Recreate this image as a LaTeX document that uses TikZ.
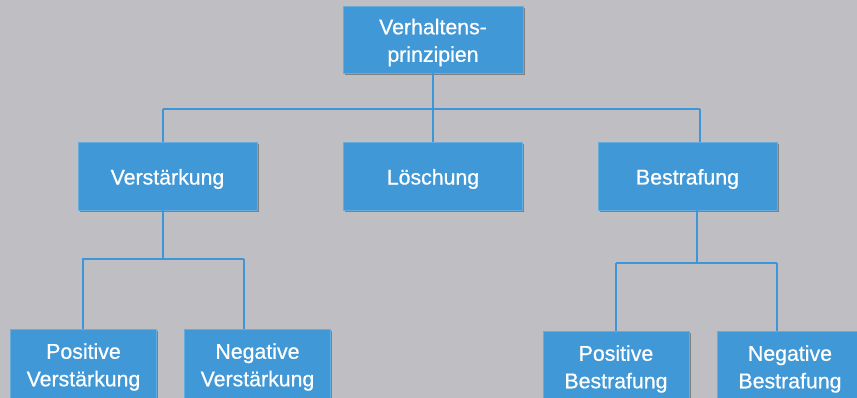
\documentclass[tikz,border=0pt]{standalone}
\usepackage{fontspec}
\setmainfont{Liberation Sans}
\newfontfamily\boxfont{Liberation Sans}[FakeBold=0.7]
\usetikzlibrary{shadows}
\definecolor{bg}{RGB}{191,191,195}
\definecolor{boxblue}{RGB}{64,152,214}
\definecolor{lineblue}{RGB}{60,150,216}
\tikzset{
  px/.style={x=1pt,y=-1pt},
  orgbox/.style={fill=boxblue, draw=boxblue!80!white, line width=0.6pt, inner sep=0pt,
    drop shadow={shadow xshift=1.6pt, shadow yshift=-2pt, fill=black!60, opacity=0.7}},
  boxtext/.style={text=white, font=\boxfont\fontsize{21.3}{27.5}\selectfont, align=center,
    inner sep=0pt, yshift=-3pt},
  lvlone/.style={orgbox, minimum width=180pt, minimum height=67pt},
  lvltwo/.style={orgbox, minimum width=179pt, minimum height=68pt},
  lvlthree/.style={orgbox, minimum width=146pt, minimum height=72pt},
  conn/.style={draw=lineblue, line width=1.6pt}
}
\begin{document}
\begin{tikzpicture}[px]
\fill[bg] (0,0) rectangle (857,398);
\useasboundingbox (0,0) rectangle (857,398);

\node[lvlone, label={[boxtext]center:Verhaltens-\\prinzipien}] (top) at (433,39.5) {};

\node[lvltwo, label={[boxtext]center:Verstärkung}] (verst) at (167.5,176) {};
\node[lvltwo, label={[boxtext]center:Löschung}] (loesch) at (433,176) {};
\node[lvltwo, label={[boxtext]center:Bestrafung}] (bestr) at (687.5,176) {};

\node[lvlthree, label={[boxtext,yshift=1pt]center:Positive\\Verstärkung}] (posv) at (83.5,365) {};
\node[lvlthree, label={[boxtext,yshift=1pt]center:Negative\\Verstärkung}] (negv) at (257.5,365) {};
\node[lvlthree, label={[boxtext,yshift=1pt]center:Positive\\Bestrafung}] (posb) at (616,367) {};
\node[lvlthree, label={[boxtext,yshift=1pt]center:Negative\\Bestrafung}] (negb) at (790,367) {};

% level 1 -> level 2
\coordinate (j1) at (433,109);
\coordinate (j1l) at (163,109);
\coordinate (j1r) at (700,109);
\draw[conn] (top.south) -- (j1);
\draw[conn] (j1l) -- (j1r);
\draw[conn] (j1l) -- (j1l |- verst.north);
\draw[conn] (j1) -- (loesch.north);
\draw[conn] (j1r) -- (j1r |- bestr.north);

% Verstaerkung -> children
\coordinate (j2) at (163,259);
\coordinate (j2l) at (82,259);
\coordinate (j2r) at (244,259);
\draw[conn] (j2 |- verst.south) -- (j2);
\draw[conn] (j2l) -- (j2r);
\draw[conn] (83,259) -- (83,329);
\draw[conn] (j2r) -- (j2r |- negv.north);

% Bestrafung -> children
\coordinate (j3) at (697,263);
\coordinate (j3l) at (616,263);
\coordinate (j3r) at (777,263);
\draw[conn] (j3 |- bestr.south) -- (j3);
\draw[conn] (j3l) -- (j3r);
\draw[conn] (j3l) -- (posb.north);
\draw[conn] (j3r) -- (j3r |- negb.north);
\end{tikzpicture}
\end{document}
